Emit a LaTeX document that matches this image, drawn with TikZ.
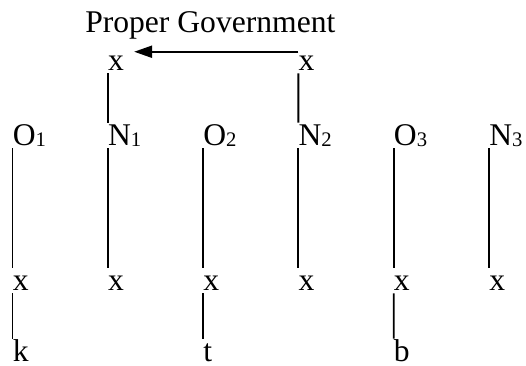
\documentclass[tikz,border=0pt]{standalone}
\usepackage{fontspec}
\setmainfont{Liberation Serif}
\usetikzlibrary{arrows.meta,calc,positioning}
\newcommand{\lowidx}[1]{{\fontsize{15.5}{15.5}\selectfont\raisebox{-1pt}{#1}}}

\begin{document}
\begin{tikzpicture}[x=0.75pt,y=-0.75pt,
    seg/.style={anchor=base west, inner sep=0pt, font=\fontsize{23.7}{28}\selectfont,
      text height=16.5pt, text depth=2.25pt},
    assoc/.style={line width=1.4pt},
    govarrow/.style={line width=1.6pt, -{Triangle[length=13.5pt,width=9pt]}}]
        \useasboundingbox (0,0) rectangle (526,365);
        % Tiers: O/N slots, timing slots, melody
        \foreach \name/\lab/\col in {O1/O\lowidx{1}/0, N1/N\lowidx{1}/1, O2/O\lowidx{2}/2,
            N2/N\lowidx{2}/3, O3/O\lowidx{3}/4, N3/N\lowidx{3}/5} {
            \node[seg] (\name) at ({12.5+95.3*\col},145) {\lab};
          }
        \foreach \i in {1,...,6} {
            \node[seg] (x\i) at ({12.5+95.3*(\i-1)},290) {x};
            \draw[assoc] (\ifcase\i\or O1\or N1\or O2\or N2\or O3\or N3\fi.south west) -- (x\i.north west);
          }
        \node[seg] (k) at (12.5,361) {k};
        \node[seg] (t) at (203.1,361) {t};
        \node[seg] (b) at (393.7,361) {b};
        \draw[assoc] (x1.south west) -- (k.north west);
        \draw[assoc] (x3.south west) -- (t.north west);
        \draw[assoc] (x5.south west) -- (b.north west);
        % Governing positions
        \node[seg] (topL) at (107.8,70) {x};
        \node[seg] (topR) at (298.4,70) {x};
        \draw[assoc] (topL.south west) -- (N1.north west);
        \draw[assoc] (topR.south west) -- (N2.north west);
        \draw[govarrow] ($(topR.north west)+(0,4)$) -- ($(topL.north east)+(10,4)$);
        \node[seg] (title) at (85,32) {Proper Government};
      \end{tikzpicture}
\end{document}
